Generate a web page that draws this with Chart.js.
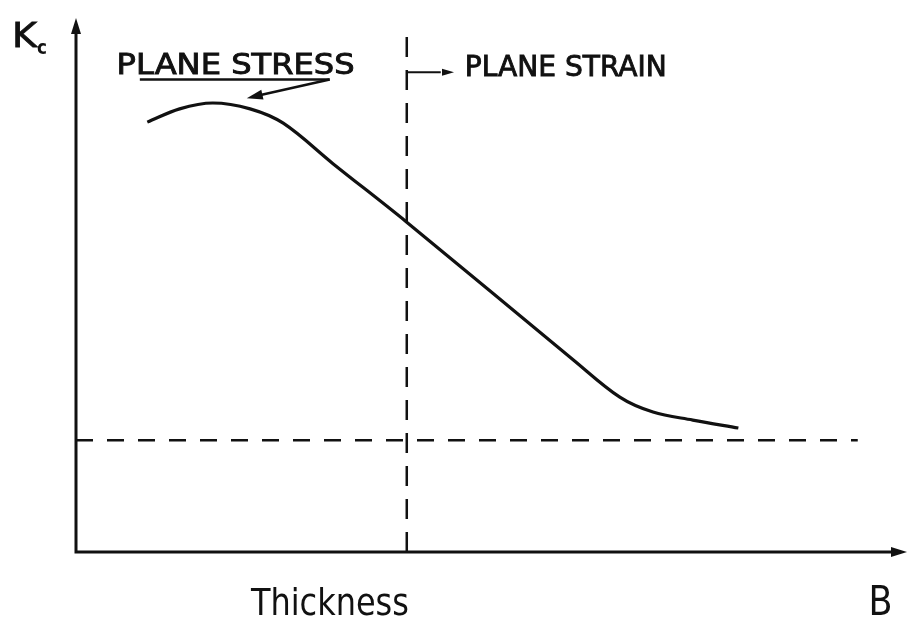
<!DOCTYPE html>
<html>
<head>
<meta charset="utf-8">
<script src="https://cdn.jsdelivr.net/npm/chart.js@4.4.1/dist/chart.umd.min.js"></script>
<style>
  html, body { margin: 0; padding: 0; background: #fff; }
  #kc-chart { display: block; }
</style>
</head>
<body>
<canvas id="kc-chart" width="911" height="619"></canvas>
<script>
// Schematic: fracture toughness Kc against thickness B (arbitrary units 0-10)
const thickness = [0.86, 1.25, 1.65, 2.10, 2.50, 3.10, 3.99, 6.00, 6.56, 6.96, 7.44, 7.99];
const kcValues  = [8.08, 8.33, 8.44, 8.33, 8.06, 7.30, 6.20, 3.61, 2.91, 2.63, 2.48, 2.33];

const transitionB = 3.99;           // plane stress -> plane strain boundary
const transitionTop = 9.77;
const plateauKc = 2.1;              // lower plateau (plane strain Kc)
const plateauRange = [0, 9.43];

const yAxisLabel = 'K';
const yAxisSub = 'c';
const xAxisLabel = 'Thickness';
const xAxisSymbol = 'B';
const stressLabel = 'PLANE STRESS';
const strainLabel = 'PLANE STRAIN';

const INK = '#111';

function drawFitted(ctx, text, x, y, font, width, weight) {
    ctx.save();
    ctx.font = font;
    const w = ctx.measureText(text).width;
    ctx.translate(x, y);
    ctx.scale(width / w, 1);
    ctx.fillText(text, 0, 0);
    if (weight) {
        ctx.lineWidth = weight;
        ctx.strokeText(text, 0, 0);
    }
    ctx.restore();
}

function arrowHead(ctx, x0, y0, x1, y1, len, half) {
    const a = Math.atan2(y1 - y0, x1 - x0);
    ctx.beginPath();
    ctx.moveTo(x1, y1);
    ctx.lineTo(x1 - len * Math.cos(a) + half * Math.sin(a), y1 - len * Math.sin(a) - half * Math.cos(a));
    ctx.lineTo(x1 - len * Math.cos(a) - half * Math.sin(a), y1 - len * Math.sin(a) + half * Math.cos(a));
    ctx.closePath();
    ctx.fill();
}

const sketchPlugin = {
    id: 'sketch',
    afterDraw(chart) {
        const { ctx, chartArea: area, scales: { x, y } } = chart;
        const px = v => x.getPixelForValue(v);
        const py = v => y.getPixelForValue(v);
        ctx.save();
        ctx.strokeStyle = INK;
        ctx.fillStyle = INK;
        ctx.lineCap = 'butt';

        // axes with arrows
        ctx.lineWidth = 3;
        ctx.beginPath();
        ctx.moveTo(area.left, area.top + 4);
        ctx.lineTo(area.left, area.bottom);
        ctx.lineTo(area.right - 4, area.bottom);
        ctx.stroke();
        arrowHead(ctx, area.left, area.bottom, area.left, area.top - 2, 16, 5);
        arrowHead(ctx, area.left, area.bottom, area.right + 2, area.bottom, 16, 5);

        // axis labels
        ctx.textBaseline = 'alphabetic';
        drawFitted(ctx, yAxisLabel, area.left - 64, area.top + 27, '33px "DejaVu Sans"', 25, 0.8);
        drawFitted(ctx, yAxisSub, area.left - 39, area.top + 34, 'bold 19px "DejaVu Sans"', 10);
        drawFitted(ctx, xAxisLabel, px(2.11), area.bottom + 63, '38px "DejaVu Sans"', 158);
        drawFitted(ctx, xAxisSymbol, px(9.56), area.bottom + 63, '40px "DejaVu Sans"', 24);

        // region labels
        drawFitted(ctx, stressLabel, px(0.49), py(8.99), '28px "DejaVu Sans"', 238, 0.9);
        drawFitted(ctx, strainLabel, px(4.69), py(8.95), '28px "DejaVu Sans"', 202, 0.9);

        // underline and pointer for plane stress
        ctx.lineWidth = 2.5;
        ctx.beginPath();
        ctx.moveTo(px(0.77), py(8.88));
        ctx.lineTo(px(3.06), py(8.88));
        ctx.stroke();
        ctx.beginPath();
        ctx.moveTo(px(3.06), py(8.88));
        ctx.lineTo(px(2.2), py(8.58));
        ctx.stroke();
        arrowHead(ctx, px(3.06), py(8.88), px(2.06), py(8.53), 16, 5);

        // arrow into the plane strain region
        ctx.lineWidth = 2;
        ctx.beginPath();
        ctx.moveTo(px(transitionB), py(9.02));
        ctx.lineTo(px(4.4), py(9.02));
        ctx.stroke();
        arrowHead(ctx, px(transitionB), py(9.02), px(4.56), py(9.02), 12, 3.5);
        ctx.restore();
    }
};

const ctx = document.getElementById('kc-chart');
new Chart(ctx.getContext('2d'), {
    type: 'scatter',
    data: {
        datasets: [
            {
                label: 'Kc',
                data: thickness.map((b, i) => ({ x: b, y: kcValues[i] })),
                showLine: true,
                borderColor: INK,
                borderWidth: 3.2,
                tension: 0.35,
                pointRadius: 0
            },
            {
                label: 'transition',
                data: [{ x: transitionB, y: 0 }, { x: transitionB, y: transitionTop }],
                showLine: true,
                borderColor: INK,
                borderWidth: 2.5,
                borderDash: [20, 13],
                pointRadius: 0
            },
            {
                label: 'plateau',
                data: [{ x: plateauRange[0], y: plateauKc }, { x: plateauRange[1], y: plateauKc }],
                showLine: true,
                borderColor: INK,
                borderWidth: 2.5,
                borderDash: [17, 14],
                pointRadius: 0
            }
        ]
    },
    options: {
        responsive: false,
        animation: false,
        layout: { padding: { left: 76, right: 6, top: 20, bottom: 67 } },
        plugins: { legend: { display: false }, tooltip: { enabled: false } },
        scales: {
            x: { type: 'linear', min: 0, max: 10, display: false },
            y: { type: 'linear', min: 0, max: 10, display: false }
        }
    },
    plugins: [sketchPlugin]
});
</script>
</body>
</html>
